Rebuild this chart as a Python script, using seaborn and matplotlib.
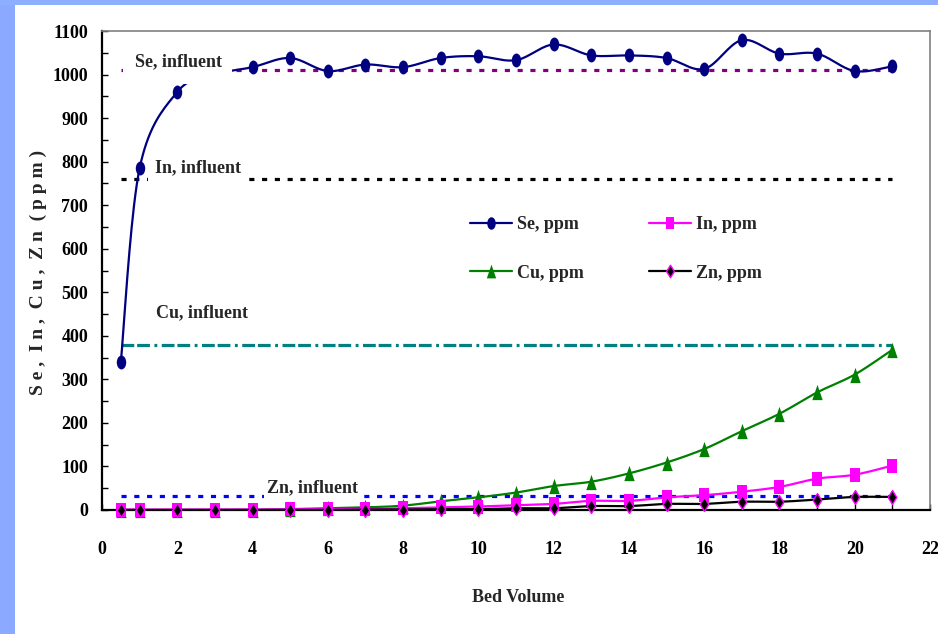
import numpy as np
import pandas as pd
import matplotlib
matplotlib.use("Agg")
import matplotlib.pyplot as plt
import seaborn as sns
from matplotlib.path import Path
from matplotlib.lines import Line2D
from matplotlib.patches import Rectangle
from matplotlib.ticker import MultipleLocator

# ---------------- data ----------------
bed_volume = [0.5, 1, 2, 3, 4, 5, 6, 7, 8, 9, 10, 11, 12, 13, 14, 15, 16, 17, 18, 19, 20, 21]
se_ppm = [339, 785, 960, 1000, 1017, 1038, 1008, 1023, 1017, 1038, 1042, 1033, 1069, 1044, 1044,
          1038, 1013, 1079, 1048, 1048, 1008, 1019]
in_ppm = [1, 1, 1, 1, 1, 2, 2, 2, 4, 6, 8, 11, 14, 21, 21, 29, 34, 42, 53, 72, 81, 102]
cu_ppm = [0, 0, 0, 0, 0, 2, 4, 6, 10, 20, 29, 40, 55, 65, 84, 109, 140, 181, 221, 270, 311, 368]
zn_ppm = [0, 0, 0, 0, 0, 0, 0, 1, 1, 2, 2, 4, 4, 9, 9, 14, 14, 19, 19, 24, 30, 30]

influent_names = ["Se, influent", "In, influent", "Cu, influent", "Zn, influent"]
influent_values = [1010, 760, 380, 32]
influent_span = [0.5, 21]

series_labels = ["Se, ppm", "In, ppm", "Cu, ppm", "Zn, ppm"]

x_ticks = list(range(0, 23, 2))
y_ticks = list(range(0, 1101, 100))

# ---------------- style ----------------
sns.set_theme(style="white")
plt.rcParams["font.family"] = ["Liberation Serif", "DejaVu Serif"]
plt.rcParams["font.weight"] = "bold"

W, H = 938, 634
fig = plt.figure(figsize=(W / 100, H / 100), dpi=100)
fig.patch.set_facecolor("white")
fig.patches.append(Rectangle((0, 0), 15 / W, 1, transform=fig.transFigure,
                             facecolor="#8AA9FF", edgecolor="none", zorder=0))
fig.patches.append(Rectangle((0, 1 - 5 / H), 1, 5 / H, transform=fig.transFigure,
                             facecolor="#8EAEFF", edgecolor="none", zorder=0))

ax = fig.add_axes([102 / W, 1 - 510 / H, (930 - 102) / W, (510 - 31) / H])
ax.set_facecolor("white")


def smooth(xs, ys, n=20):
    P = np.column_stack([xs, ys]).astype(float)
    out = [P[0]]
    for i in range(len(P) - 1):
        p0 = P[i - 1] if i > 0 else P[i]
        p1, p2 = P[i], P[i + 1]
        p3 = P[i + 2] if i + 2 < len(P) else P[i + 1]
        c1 = p1 + (p2 - p0) / 6
        c2 = p2 - (p3 - p1) / 6
        t = np.linspace(0, 1, n)[1:, None]
        seg = (1 - t) ** 3 * p1 + 3 * (1 - t) ** 2 * t * c1 + 3 * (1 - t) * t ** 2 * c2 + t ** 3 * p2
        out.extend(seg)
    out = np.array(out)
    return out[:, 0], out[:, 1]


# stretched marker shapes (as in the reference)
ell = Path.unit_circle()
ell = Path(ell.vertices * np.array([0.68, 1.0]), ell.codes)
sq = Path([(-0.7, -1), (0.7, -1), (0.7, 1), (-0.7, 1), (-0.7, -1)],
          [Path.MOVETO, Path.LINETO, Path.LINETO, Path.LINETO, Path.CLOSEPOLY])
tri = Path([(0, 1), (-0.68, -1), (0.68, -1), (0, 1)],
           [Path.MOVETO, Path.LINETO, Path.LINETO, Path.CLOSEPOLY])
dia = Path([(0, 1), (0.62, 0), (0, -1), (-0.62, 0), (0, 1)],
           [Path.MOVETO, Path.LINETO, Path.LINETO, Path.LINETO, Path.CLOSEPOLY])

# (values, line colour, marker, face, edge, size pt, edge width, zorder)
series = [
    (se_ppm, "#000080", ell, "#000080", "#000080", 10.0, 0.0, 4),
    (cu_ppm, "#008000", tri, "#008000", "#008000", 11.0, 0.0, 5),
    (in_ppm, "#FF00FF", sq, "#FF00FF", "#FF00FF", 10.0, 0.0, 6),
    (zn_ppm, "#000000", dia, "#000000", "#FF00FF", 10.0, 1.0, 7),
]

# influent lines
influent_colors = ["#800080", "#000000", "#008080", "#0000FF"]
influent_styles = [(0, (1.6, 2.4)), (0, (1.6, 2.4)), (0, (4, 0.9, 4, 1.4, 0.9, 1.4)), (0, (1.6, 2.4))]
for val, col, ls in zip(influent_values, influent_colors, influent_styles):
    sns.lineplot(x=influent_span, y=[val, val], color=col, lw=2.3, linestyle=ls,
                 ax=ax, zorder=3, estimator=None, sort=False)

for (vals, lc, mk, fc, ec, ms, ew, z) in series:
    sx, sy = smooth(bed_volume, vals)
    df = pd.DataFrame({"x": sx, "y": sy})
    sns.lineplot(data=df, x="x", y="y", color=lc, lw=1.6, ax=ax, zorder=z,
                 estimator=None, sort=False)
    sns.scatterplot(x=bed_volume, y=vals, marker=mk, s=ms ** 2, color=fc,
                    edgecolor=ec, linewidth=ew, ax=ax, zorder=z + 0.5, clip_on=False)

# white masks behind the influent labels
ax.add_patch(Rectangle((0.56, 978), 3.45 - 0.56, 1068 - 978, facecolor="white",
                       edgecolor="none", zorder=15))
txt_kw = dict(fontsize=13, fontweight="bold", ha="center", va="center", zorder=20)
ax.text(2.03, 1030, influent_names[0], **txt_kw)
ax.text(2.55, 785, influent_names[1],
        bbox=dict(boxstyle="square,pad=0.4", fc="white", ec="none"), **txt_kw)
ax.text(2.65, 452, influent_names[2], **txt_kw)
ax.text(5.6, 52, influent_names[3],
        bbox=dict(boxstyle="square,pad=0.18", fc="white", ec="none"), **txt_kw)

# axes
ax.set_xlim(0, 22)
ax.set_ylim(0, 1100)
ax.set_xticks(x_ticks)
ax.set_yticks(y_ticks)
ax.xaxis.set_minor_locator(MultipleLocator(1))
ax.yaxis.set_minor_locator(MultipleLocator(50))
ax.tick_params(axis="x", which="both", direction="in", length=4.5, width=1.0,
               bottom=True, top=False, pad=22, labelsize=13, colors="black")
ax.tick_params(axis="y", which="both", direction="in", length=4.5, width=1.0,
               left=True, right=False, pad=10, labelsize=13, colors="black")
for lab in ax.get_xticklabels() + ax.get_yticklabels():
    lab.set_fontweight("bold")
ax.grid(False)
ax.set_xlabel("")
ax.set_ylabel("")
for s in ["left", "bottom"]:
    ax.spines[s].set_color("black")
    ax.spines[s].set_linewidth(1.6)
for s in ["top", "right"]:
    ax.spines[s].set_color("#808080")
    ax.spines[s].set_linewidth(1.2)

fig.text(518 / W, 1 - 598 / H, "Bed Volume", fontsize=13, fontweight="bold",
         ha="center", va="center")
fig.text(38 / W, 1 - 272 / H, "S e ,  I n ,  C u ,  Z n  ( p p m )", fontsize=14,
         fontweight="bold", ha="center", va="center", rotation=90)

# legend
handles = []
for (vals, lc, mk, fc, ec, ms, ew, z), lab in zip(series, ["Se, ppm", "Cu, ppm", "In, ppm", "Zn, ppm"]):
    handles.append(Line2D([], [], color=lc, lw=1.6, marker=mk, markersize=ms * 0.9,
                          markerfacecolor=fc, markeredgecolor=ec,
                          markeredgewidth=ew, label=lab))
leg = ax.legend(handles=handles, ncol=2, loc="upper left",
                bbox_to_anchor=(463 / W, 1 - 209 / H), bbox_transform=fig.transFigure,
                frameon=False, prop={"family": "Liberation Serif", "weight": "bold", "size": 13},
                handlelength=2.3, handletextpad=0.3, labelspacing=1.75, columnspacing=3.6,
                borderaxespad=0)
leg.set_zorder(25)

fig.savefig("out.png", dpi=100, facecolor=fig.get_facecolor())
